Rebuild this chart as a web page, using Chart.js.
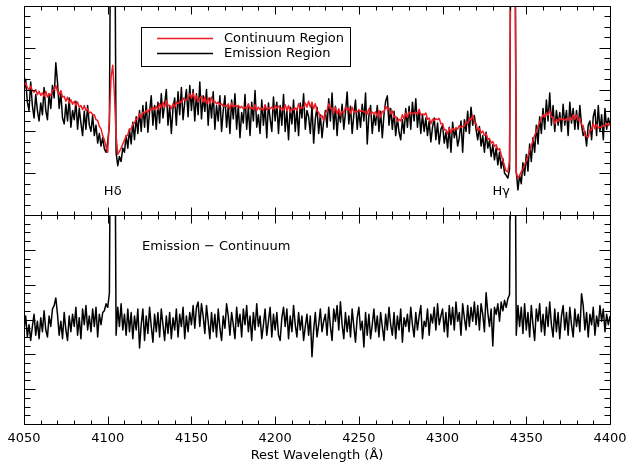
<!DOCTYPE html>
<html><head><meta charset="utf-8">
<script src="https://cdn.jsdelivr.net/npm/chart.js@4.4.1/dist/chart.umd.min.js"></script>
<style>
html,body{margin:0;padding:0;background:#fff;}
#wrap{position:relative;width:634px;height:466px;background:#fff;}
canvas{position:absolute;left:0;top:0;}
</style></head><body>
<div id="wrap"><canvas id="topc" width="634" height="466" style="width:634px;height:466px"></canvas><canvas id="botc" width="634" height="466" style="width:634px;height:466px"></canvas></div>
<script>
// Wavelength grid (Angstrom): one sample per Angstrom from 4050 to 4400
const wavelengthStart = 4050, wavelengthStep = 1;
const xTickLabels = [4050, 4100, 4150, 4200, 4250, 4300, 4350, 4400];
const xAxisTitle = 'Rest Wavelength (\u00c5)';

// Top panel: continuum-region spectrum (relative flux x100)
const continuum = [
306,316,305,300,308,298,294,300,288,296,
286,292,284,296,282,290,286,298,300,310,
296,288,298,282,284,272,282,268,276,265,
272,262,270,258,262,252,262,250,254,244,
246,240,240,228,226,212,206,190,180,163,
150,230,330,358,290,190,145,152,160,170,
179,188,192,206,205,218,220,230,230,242,
232,246,244,250,246,254,250,258,252,260,
252,266,256,270,258,274,262,262,254,266,
258,270,266,272,268,280,274,276,278,290,
280,292,276,285,270,280,284,270,282,266,
280,266,282,270,272,266,270,264,266,260,
262,260,266,252,268,258,262,260,262,256,
260,254,258,254,266,254,258,252,264,250,
258,252,256,250,264,252,256,254,258,252,
262,256,260,254,256,250,264,250,262,246,
256,252,256,250,266,254,258,256,268,258,
272,258,270,254,266,248,246,234,238,226,
244,250,266,254,256,244,258,242,254,238,
248,244,258,252,256,242,258,246,248,246,
252,248,250,246,248,242,254,240,246,242,
247,236,250,234,248,246,260,254,256,242,
249,234,236,224,229,225,240,230,244,234,
247,242,244,243,246,241,253,239,242,240,
244,229,232,218,229,226,230,228,231,218,
219,204,204,194,208,196,207,203,209,205,
214,210,212,212,224,218,232,228,239,222,
219,202,207,196,201,191,194,181,183,172,
176,164,168,156,159,144,130,118,105,103,
130,900,900,900,100,88,95,103,110,120,
130,142,154,165,178,190,200,212,222,230,
240,234,244,239,250,234,234,218,229,224,
232,228,230,226,231,227,233,228,240,229,
239,226,230,216,214,192,188,186,204,203,
219,206,217,208,210,210,214,212,219,214,
220];

// Top panel: emission-region spectrum (relative flux x100)
const emission = [
295,325,270,250,318,262,232,288,250,225,
268,240,305,250,228,290,255,310,280,364,
318,255,292,232,218,265,225,280,210,250,
228,272,205,255,220,190,248,205,262,215,
200,238,190,215,172,195,165,185,158,150,
175,215,900,900,900,150,118,140,128,160,
150,190,160,205,170,222,180,235,195,250,
200,262,210,270,198,248,285,215,262,205,
270,220,290,232,265,300,215,262,195,255,
280,215,295,240,305,228,270,300,235,310,
250,300,225,290,240,318,230,285,248,300,
215,280,232,295,205,262,225,285,200,250,
285,210,260,195,275,230,290,205,262,185,
245,220,288,205,258,190,270,225,298,210,
240,195,275,215,262,185,268,230,200,282,
225,270,195,262,215,288,200,250,180,258,
218,275,200,255,190,268,232,290,205,250,
235,195,262,172,230,258,195,240,185,225,
250,210,278,225,292,205,260,190,250,222,
265,205,245,294,218,260,195,240,275,205,
250,210,265,225,292,170,238,262,195,240,
215,262,200,248,185,240,272,285,215,255,
205,248,190,232,198,180,228,195,255,210,
260,205,270,225,278,210,250,195,240,200,
232,190,225,175,210,232,180,220,170,205,
215,172,198,160,210,150,222,185,205,165,
185,225,150,228,200,248,195,258,215,238,
205,180,212,165,190,150,198,160,178,140,
168,132,160,120,150,112,135,100,95,88,
110,900,900,900,105,60,95,75,125,95,
145,105,170,128,185,150,215,170,235,195,
255,205,275,225,292,215,262,200,250,215,
245,200,265,215,250,190,270,220,255,205,
250,205,262,215,190,200,165,215,225,180,
235,252,190,262,200,240,180,255,205,232,
215];

// Bottom panel: emission minus continuum (x100)
const difference = [
-30,10,-50,-15,-60,-20,15,-45,-5,-55,
5,-35,25,-30,-50,10,-20,30,40,62,
15,-45,-5,-55,20,-30,-60,10,-35,15,
-20,35,-45,5,-55,30,-15,40,-30,10,
-35,30,-20,35,-50,15,-15,20,25,45,
35,76,900,900,900,-45,35,-20,45,-30,
15,-45,30,-35,20,-55,10,-30,30,-82,
-15,30,-60,10,-40,35,-20,-65,15,-35,
20,-50,30,-15,-60,10,-40,20,-55,5,
-30,30,-50,15,-20,35,-55,10,-35,20,
-15,40,-25,35,50,-20,45,10,-40,40,
-5,-55,20,-35,15,-50,30,-25,-60,10,
-25,45,10,-45,20,-15,-55,35,-20,15,
-50,30,-15,40,-35,10,-60,20,-30,45,
-20,10,-55,-15,30,-45,-5,35,-50,15,
-30,20,-45,-60,5,35,-20,30,-55,10,
-35,40,-15,-50,20,-30,10,-60,-20,15,
-45,10,-107,-30,20,-50,-15,30,-35,-5,
15,-45,35,-20,-60,30,-5,40,-30,51,
-15,-55,20,-35,10,-50,30,-20,-65,5,
35,-30,-5,-79,20,-45,15,-55,-15,30,
-35,10,-50,20,-20,-60,15,-30,35,-15,
-45,20,-55,10,-30,30,-65,5,-20,15,
-35,35,-15,-50,20,-30,10,40,-55,-5,
-20,30,-45,15,-10,35,-30,45,-15,10,
30,-35,20,-50,40,-15,35,-30,50,-5,
20,-45,45,5,-30,40,-20,35,-5,50,
-15,40,-30,45,15,-35,77,20,-20,30,
-76,35,15,45,-5,50,25,55,35,60,
71,900,900,900,-45,40,-20,35,-40,45,
-30,20,-50,40,-15,-60,30,-5,45,-35,
15,-45,35,-20,50,-15,-50,30,-35,20,
-55,10,40,-30,20,-45,35,-15,-50,30,
-20,15,-35,74,40,-30,20,-50,15,-15,
35,-45,10,-20,40,-5,30,-35,15,-15,
10];

const FONT = '"DejaVu Sans", "Liberation Sans", sans-serif';
const FONT_CSS = '13px ' + FONT;
const toPts = arr => arr.map((v, i) => ({x: wavelengthStart + i * wavelengthStep, y: v}));

const frameTicks = {
  id: 'frameTicks',
  afterDraw(chart, _a, o) {
    const {ctx, chartArea: a} = chart, x = chart.scales.x, y = chart.scales.y;
    const L = Math.round(a.left) + 0.5, R = Math.round(a.right) + 0.5;
    const T = Math.round(a.top) + 0.5, B = Math.round(a.bottom) + 0.5;
    ctx.save();
    ctx.strokeStyle = '#000'; ctx.lineWidth = 1;
    ctx.beginPath();
    ctx.rect(L, T, R - L, B - T);
    const isMaj = (v, base, step) => { const q = (v - base) / step; return Math.abs(q - Math.round(q)) < 1e-6; };
    for (let v = x.min; v <= x.max + 1e-6; v += o.xMinor) {
      const px = Math.round(x.getPixelForValue(v)) + 0.5;
      const len = isMaj(v, x.min, o.xMajor) ? 8 : 4;
      ctx.moveTo(px, B); ctx.lineTo(px, B - len);
      ctx.moveTo(px, T); ctx.lineTo(px, T + len);
    }
    for (let v = y.min; v <= y.max + 1e-6; v += o.yMinor) {
      const py = Math.round(y.getPixelForValue(v)) + 0.5;
      const len = isMaj(v, y.min, o.yMajor) ? 11 : 6;
      ctx.moveTo(L, py); ctx.lineTo(L + len, py);
      ctx.moveTo(R, py); ctx.lineTo(R - len, py);
    }
    ctx.stroke();
    // optional axis labels below the plot
    if (o.labels) {
      ctx.fillStyle = '#000'; ctx.font = FONT_CSS; ctx.textBaseline = 'middle'; ctx.textAlign = 'center';
      o.labels.forEach(v => ctx.fillText(String(v), x.getPixelForValue(v), o.labelY));
      ctx.fillText(o.title, (a.left + a.right) / 2, o.titleY);
    }
    ctx.restore();
  }
};

const boxLegend = {
  id: 'boxLegend',
  afterDraw(chart, _a, o) {
    if (!o.show) return;
    const {ctx} = chart;
    ctx.save();
    ctx.strokeStyle = '#000'; ctx.lineWidth = 1;
    ctx.strokeRect(o.left + 0.5, o.top + 0.5, o.width, o.height);
    ctx.font = FONT_CSS; ctx.textBaseline = 'middle'; ctx.fillStyle = '#000';
    chart.data.datasets.forEach((ds, i) => {
      const yy = o.firstRow + i * o.rowGap;
      ctx.strokeStyle = ds.borderColor; ctx.lineWidth = 1.5;
      ctx.beginPath(); ctx.moveTo(o.lineX0, yy + 0.5); ctx.lineTo(o.lineX1, yy + 0.5); ctx.stroke();
      ctx.fillText(ds.label, o.textX, yy + 1);
    });
    ctx.restore();
  }
};

const notes = {
  id: 'notes',
  afterDraw(chart, _a, o) {
    const {ctx} = chart, x = chart.scales.x, y = chart.scales.y;
    ctx.save();
    ctx.font = FONT_CSS; ctx.fillStyle = '#000'; ctx.textBaseline = 'middle';
    (o.items || []).forEach(it => {
      ctx.textAlign = it.align || 'center';
      ctx.fillText(it.text, x.getPixelForValue(it.x), y.getPixelForValue(it.y));
    });
    ctx.restore();
  }
};

const common = (pad) => ({
  responsive: false, animation: false, events: [],
  layout: {padding: pad},
  plugins: {legend: {display: false}, tooltip: {enabled: false}},
});

const lineStyle = (label, data, color, w) => ({
  label, data: toPts(data), borderColor: color, borderWidth: w,
  pointRadius: 0, tension: 0, borderJoinStyle: 'round'
});

const topOpts = common({left: 24, right: 24, top: 6, bottom: 251});
topOpts.scales = {
  x: {type: 'linear', min: 4050, max: 4400, display: false},
  y: {min: 0, max: 500, display: false}
};
topOpts.plugins.frameTicks = {xMinor: 10, xMajor: 50, yMinor: 25, yMajor: 100};
topOpts.plugins.boxLegend = {show: true, left: 141, top: 27, width: 209, height: 39,
  lineX0: 157, lineX1: 213, firstRow: 38, rowGap: 15, textX: 224};
topOpts.plugins.notes = {items: [
  {text: 'H\u03b4', x: 4103, y: 55},
  {text: 'H\u03b3', x: 4335, y: 57}
]};

new Chart(document.getElementById('topc'), {
  type: 'line',
  data: {datasets: [
    lineStyle('Continuum Region', continuum, '#ee1c24', 1.5),
    lineStyle('Emission Region', emission, '#000000', 1.5)
  ]},
  options: topOpts,
  plugins: [frameTicks, boxLegend, notes]
});

const botOpts = common({left: 24, right: 24, top: 215, bottom: 42});
botOpts.scales = {
  x: {type: 'linear', min: 4050, max: 4400, display: false},
  y: {min: -300, max: 300, display: false}
};
botOpts.plugins.frameTicks = {xMinor: 10, xMajor: 50, yMinor: 25, yMajor: 100,
  labels: xTickLabels, labelY: 439, title: xAxisTitle, titleY: 456};
botOpts.plugins.notes = {items: [
  {text: 'Emission \u2212 Continuum', x: 4120.5, y: 209, align: 'left'}
]};

new Chart(document.getElementById('botc'), {
  type: 'line',
  data: {datasets: [
    lineStyle('Emission \u2212 Continuum', difference, '#000000', 1.5)
  ]},
  options: botOpts,
  plugins: [frameTicks, notes]
});
</script>
</body></html>
